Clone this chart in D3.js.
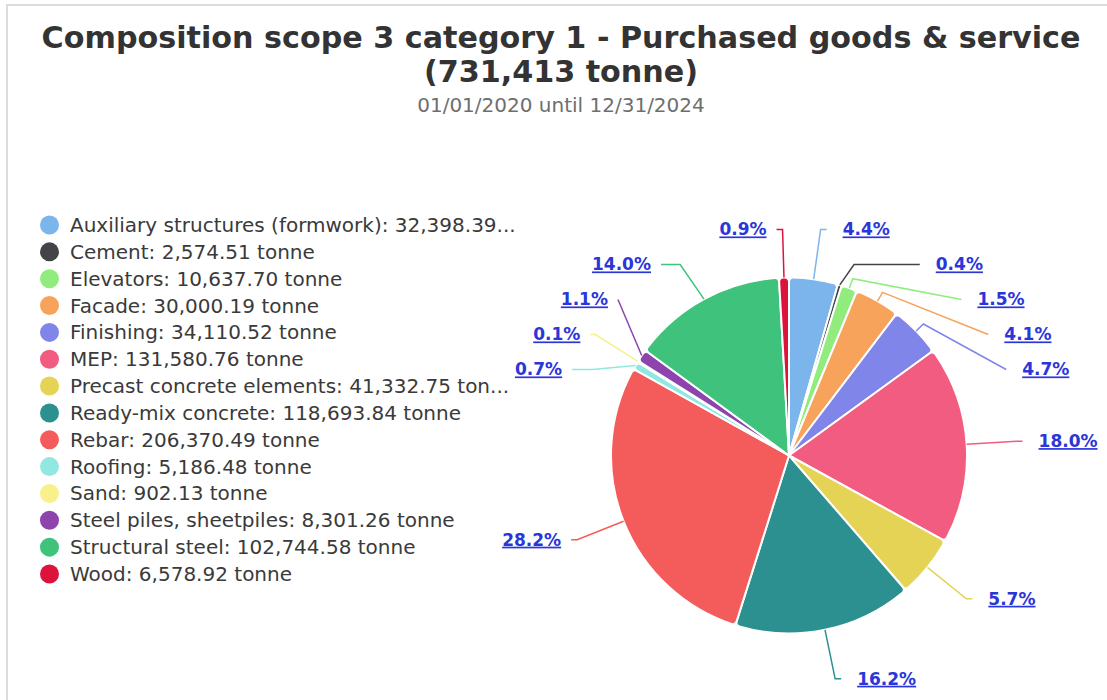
<!DOCTYPE html>
<meta charset="utf-8">
<title>Composition scope 3 category 1</title>
<style>
  body { margin: 0; background: #fff; }
  svg { display: block; font-family: "DejaVu Sans", sans-serif; }
</style>
<div id="viz"></div>
<script src="https://cdnjs.cloudflare.com/ajax/libs/d3/7.8.5/d3.min.js"></script>
<script>
var width = 1107;
var height = 700;

// chart data
var categories = [
  "Auxiliary structures (formwork)", "Cement", "Elevators", "Facade", "Finishing",
  "MEP", "Precast concrete elements", "Ready-mix concrete", "Rebar", "Roofing",
  "Sand", "Steel piles, sheetpiles", "Structural steel", "Wood"
];
var values = [
  32398.39, 2574.51, 10637.70, 30000.19, 34110.52,
  131580.76, 41332.75, 118693.84, 206370.49, 5186.48,
  902.13, 8301.26, 102744.58, 6578.92
];
var colors = [
  "#7cb5ec", "#434348", "#90ed7d", "#f7a35c", "#8085e9",
  "#f15c80", "#e4d354", "#2b908f", "#f45b5b", "#91e8e1",
  "#f7f18c", "#8e44ad", "#3fc27b", "#dc143c"
];
var titleText = "Composition scope 3 category 1 - Purchased goods & service";
var periodText = "01/01/2020 until 12/31/2024";
var unit = "tonne";

var data = categories.map((c, i) => ({ name: c, value: values[i], color: colors[i] }));
var total = d3.sum(values);

var fmtVal = d3.format(",.2f");
var fmtTotal = d3.format(",.0f");
var fmtPct = d3.format(".1%");

var svg = d3.select("#viz")
  .append("svg")
  .attr("width", width)
  .attr("height", height);

// card border
svg.append("rect")
  .attr("x", 7).attr("y", 5)
  .attr("width", 1300).attr("height", 900)
  .attr("fill", "none")
  .attr("stroke", "#dcdcdc")
  .attr("stroke-width", 2);

// titles
var title = svg.append("g").attr("text-anchor", "middle").attr("fill", "#333");
title.append("text")
  .attr("x", 561).attr("y", 48)
  .attr("font-size", 30.2).attr("font-weight", "bold")
  .text(titleText);
title.append("text")
  .attr("x", 561).attr("y", 82)
  .attr("font-size", 30.2).attr("font-weight", "bold")
  .text("(" + fmtTotal(total) + " " + unit + ")");
svg.append("text")
  .attr("x", 561).attr("y", 112)
  .attr("text-anchor", "middle")
  .attr("font-size", 20)
  .attr("fill", "#6e6e6e")
  .text(periodText);

// legend
var legendY = d3.scalePoint().domain(categories).range([225, 574]);
var legend = svg.append("g");
var rows = legend.selectAll("g").data(data).join("g")
  .attr("transform", d => `translate(0,${legendY(d.name)})`);
rows.append("circle")
  .attr("cx", 49.5).attr("r", 9.5)
  .attr("fill", d => d.color);
rows.append("text")
  .attr("x", 70)
  .attr("dy", "0.35em")
  .attr("font-size", 20)
  .attr("fill", "#3a3a3a")
  .each(function(d) {
    var full = d.name + ": " + fmtVal(d.value) + " " + unit;
    var el = d3.select(this).text(full);
    // truncate long entries with an ellipsis
    if (this.getComputedTextLength() > 440) {
      var s = full;
      while (s.length > 1) {
        s = s.slice(0, -1);
        el.text(s + "...");
        if (this.getComputedTextLength() <= 446) break;
      }
    }
  });

// pie
var cx = 789, cy = 455.5, r = 178;
var lineR = 228, len2 = 6, labelGap = 35, topMin = 229.5;

var pie = d3.pie().sort(null).value(d => d.value);
var arcs = pie(data);
var arc = d3.arc().innerRadius(0).outerRadius(r).cornerRadius(4);

var g = svg.append("g").attr("transform", `translate(${cx},${cy})`);
g.selectAll("path").data(arcs).join("path")
  .attr("d", arc)
  .attr("fill", d => d.data.color)
  .attr("stroke", "#fff")
  .attr("stroke-width", 2)
  .attr("stroke-linejoin", "round");

// label layout, pushed apart vertically per side
var labels = arcs.map(a => {
  var m = (a.startAngle + a.endAngle) / 2;
  return {
    d: a.data,
    m: m,
    dir: Math.sin(m) >= 0 ? 1 : -1,
    y0: cy - lineR * Math.cos(m),
    ex: cx + r * Math.sin(m),
    ey: cy - r * Math.cos(m),
    bx: cx + lineR * Math.sin(m)
  };
});

function layoutSide(items) {
  items.sort((a, b) => a.y0 - b.y0);
  var last = topMin - labelGap;
  items.forEach(d => { d.y = Math.max(d.y0, last + labelGap); last = d.y; });
  var clusters = [];
  items.forEach((d, k) => {
    if (k > 0 && d.y > d.y0 + 0.01) clusters[clusters.length - 1].push(d);
    else clusters.push([d]);
  });
  var prevEnd = -Infinity;
  clusters.forEach(c => {
    var s = d3.mean(c, d => d.y - d.y0);
    var limit = Math.max(topMin, prevEnd + labelGap);
    var up = Math.min(s, c[0].y - limit);
    if (up > 0) c.forEach(d => { d.y -= up; });
    prevEnd = c[c.length - 1].y;
  });
  [items.filter(d => d.y < cy), items.filter(d => d.y >= cy)].forEach(semi => {
    if (!semi.length) return;
    var f = semi.reduce((a, b) => Math.abs(b.y - cy) > Math.abs(a.y - cy) ? b : a);
    var dyF = Math.abs(f.y - cy), dxF = Math.abs(f.bx - cx);
    var B = dxF < lineR ? dyF / Math.sqrt(1 - dxF * dxF / (lineR * lineR)) : dyF;
    semi.forEach(d => {
      var dy = Math.abs(d.y - cy);
      var t = dy >= B ? 0 : lineR * Math.sqrt(1 - dy * dy / (B * B));
      d.lx = cx + d.dir * (t + len2);
      d.kx = d.dir > 0 ? Math.min(d.bx, d.lx) : Math.max(d.bx, d.lx);
      d.ky = d.y;
      // first segment turning back into the pie: bend close to the edge instead
      var nx = Math.sin(d.m), ny = -Math.cos(d.m);
      if ((d.kx - d.ex) * nx + (d.ky - d.ey) * ny < 0) {
        d.kx = cx + (r + 10) * nx;
        d.ky = cy + (r + 10) * ny;
      }
      d.tx = d.lx + d.dir * (d.dir > 0 ? 16 : 10);
    });
  });
}
layoutSide(labels.filter(d => d.dir > 0));
layoutSide(labels.filter(d => d.dir < 0));

svg.append("g").selectAll("polyline").data(labels).join("polyline")
  .attr("points", d => [[d.ex, d.ey], [d.kx, d.ky], [d.lx, d.y]].join(" "))
  .attr("fill", "none")
  .attr("stroke", d => d.d.color)
  .attr("stroke-width", 1.5);

svg.append("g").selectAll("text").data(labels).join("text")
  .attr("x", d => d.tx)
  .attr("y", d => d.y)
  .attr("dy", "0.35em")
  .attr("text-anchor", d => d.dir > 0 ? "start" : "end")
  .attr("font-size", 17)
  .attr("font-weight", "bold")
  .attr("fill", "#2b36d9")
  .attr("text-decoration", "underline")
  .text(d => fmtPct(d.d.value / total));
</script>
